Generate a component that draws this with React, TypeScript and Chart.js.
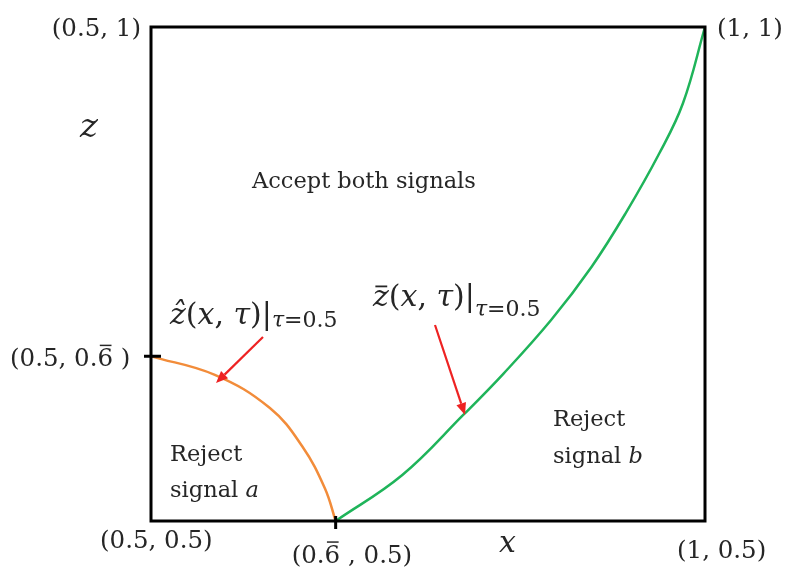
import React, { useEffect, useRef } from "react";
import { Chart, registerables } from "chart.js";

Chart.register(...registerables);

// Axis ranges of the unit square region
const X_RANGE = [0.5, 1];
const Z_RANGE = [0.5, 1];
const TWO_THIRDS = 2 / 3;

// Lower boundary ẑ(x, τ) at τ = 0.5 (reject signal a below it)
const hatX = [0.5, 0.5576, 0.6073, 0.6366, 0.657, TWO_THIRDS];
const hatZ = [TWO_THIRDS, 0.6479, 0.6143, 0.5754, 0.5329, 0.5];

// Upper boundary z̄(x, τ) at τ = 0.5 (reject signal b to its right)
const barX = [TWO_THIRDS, 0.7268, 0.7818, 0.8184, 0.8611, 0.8977, 0.9283, 0.9588, 0.9801, 1];
const barZ = [0.5, 0.5465, 0.6073, 0.6495, 0.7034, 0.7574, 0.8114, 0.8722, 0.9228, 1];

const SERIF = "'DejaVu Serif', 'Liberation Serif', serif";
const INK = "#262626";

type Part = { t: string; size: number; italic?: boolean; dy?: number; over?: boolean };

function font(p: Part) {
  return `${p.italic ? "italic " : ""}${p.size}px ${SERIF}`;
}

function drawRich(ctx: CanvasRenderingContext2D, x: number, y: number, parts: Part[], align: "left" | "right" = "left") {
  let total = 0;
  for (const p of parts) {
    ctx.font = font(p);
    total += ctx.measureText(p.t).width;
  }
  let cx = align === "right" ? x - total : x;
  ctx.textAlign = "left";
  ctx.textBaseline = "alphabetic";
  for (const p of parts) {
    ctx.font = font(p);
    const w = ctx.measureText(p.t).width;
    const by = y + (p.dy || 0);
    ctx.fillText(p.t, cx, by);
    if (p.over) {
      const m = ctx.measureText(p.t);
      const top = by - m.actualBoundingBoxAscent - p.size * 0.12;
      ctx.save();
      ctx.lineWidth = Math.max(1.2, p.size * 0.06);
      ctx.strokeStyle = ctx.fillStyle as string;
      ctx.beginPath();
      ctx.moveTo(cx + w * 0.15, top);
      ctx.lineTo(cx + w * 0.9, top);
      ctx.stroke();
      ctx.restore();
    }
    cx += w;
  }
}

function arrow(ctx: CanvasRenderingContext2D, x1: number, y1: number, x2: number, y2: number) {
  const ang = Math.atan2(y2 - y1, x2 - x1);
  const head = 12;
  const half = 5;
  const bx = x2 - head * Math.cos(ang);
  const by = y2 - head * Math.sin(ang);
  ctx.save();
  ctx.strokeStyle = "#ee2222";
  ctx.fillStyle = "#ee2222";
  ctx.lineWidth = 2.2;
  ctx.beginPath();
  ctx.moveTo(x1, y1);
  ctx.lineTo(bx, by);
  ctx.stroke();
  ctx.beginPath();
  ctx.moveTo(x2, y2);
  ctx.lineTo(bx + half * Math.sin(ang), by - half * Math.cos(ang));
  ctx.lineTo(bx - half * Math.sin(ang), by + half * Math.cos(ang));
  ctx.closePath();
  ctx.fill();
  ctx.restore();
}

const regionPlugin = {
  id: "regionDecor",
  afterDraw(chart: any) {
    const { ctx, chartArea: a, scales } = chart;
    const xs = scales.x;
    const zs = scales.y;
    ctx.save();

    // frame
    ctx.strokeStyle = "#000";
    ctx.lineWidth = 3;
    ctx.strokeRect(a.left, a.top, a.right - a.left, a.bottom - a.top);

    // tick marks at 2/3
    const ty = zs.getPixelForValue(TWO_THIRDS);
    const tx = xs.getPixelForValue(TWO_THIRDS);
    ctx.lineWidth = 3;
    ctx.beginPath();
    ctx.moveTo(a.left - 7, ty);
    ctx.lineTo(a.left + 10, ty);
    ctx.moveTo(tx, a.bottom - 5);
    ctx.lineTo(tx, a.bottom + 8);
    ctx.stroke();

    ctx.fillStyle = INK;
    const S = 24.5;
    const C = 22.5;

    // corner labels
    drawRich(ctx, a.left - 10, a.top + 9, [{ t: "(0.5, 1)", size: S }], "right");
    drawRich(ctx, a.right + 12, a.top + 9, [{ t: "(1, 1)", size: S }]);
    drawRich(ctx, a.left - 51, a.bottom + 27, [{ t: "(0.5, 0.5)", size: S }]);
    drawRich(ctx, a.right - 28, a.bottom + 37, [{ t: "(1, 0.5)", size: S }]);
    drawRich(ctx, tx - 44, a.bottom + 42, [
      { t: "(0.", size: S },
      { t: "6", size: S, over: true },
      { t: " , 0.5)", size: S },
    ]);
    drawRich(ctx, 10, ty + 10, [
      { t: "(0.5, 0.", size: S },
      { t: "6", size: S, over: true },
      { t: " )", size: S },
    ]);

    // axis letters
    drawRich(ctx, 80, 137, [{ t: "z", size: 34, italic: true }]);
    drawRich(ctx, 499, a.bottom + 31, [{ t: "x", size: 30, italic: true }]);

    // region captions
    drawRich(ctx, 252, 188, [{ t: "Accept both signals", size: C }]);
    drawRich(ctx, 170, 461, [{ t: "Reject", size: C }]);
    drawRich(ctx, 170, 497, [{ t: "signal ", size: C }, { t: "a", size: C, italic: true }]);
    drawRich(ctx, 553, 426, [{ t: "Reject", size: C }]);
    drawRich(ctx, 553, 463, [{ t: "signal ", size: C }, { t: "b", size: C, italic: true }]);

    // curve labels
    const M = 30;
    const sub = 22;
    drawRich(ctx, 170, 324, [
      { t: "ẑ", size: M, italic: true },
      { t: "(", size: M },
      { t: "x", size: M, italic: true },
      { t: ", ", size: M },
      { t: "τ", size: M, italic: true },
      { t: ")|", size: M },
      { t: "τ", size: sub, italic: true, dy: 3 },
      { t: "=0.5", size: sub, dy: 3 },
    ]);
    drawRich(ctx, 373, 306, [
      { t: "z", size: M, italic: true, over: true },
      { t: "(", size: M },
      { t: "x", size: M, italic: true },
      { t: ", ", size: M },
      { t: "τ", size: M, italic: true },
      { t: ")|", size: M },
      { t: "τ", size: sub, italic: true, dy: 10 },
      { t: "=0.5", size: sub, dy: 10 },
    ]);

    arrow(ctx, 263, 337, 216, 383);
    arrow(ctx, 435, 325, 465, 415);

    ctx.restore();
  },
};

export default function App() {
  const ref = useRef<HTMLCanvasElement | null>(null);

  useEffect(() => {
    if (!ref.current) return;
    const chart = new Chart(ref.current, {
      type: "scatter",
      data: {
        datasets: [
          {
            label: "ẑ(x, τ)|τ=0.5",
            data: hatX.map((x, i) => ({ x, y: hatZ[i] })),
            showLine: true,
            borderColor: "#f28c3a",
            borderWidth: 2.5,
            pointRadius: 0,
            tension: 0.4,
            clip: 6,
          },
          {
            label: "z̄(x, τ)|τ=0.5",
            data: barX.map((x, i) => ({ x, y: barZ[i] })),
            showLine: true,
            borderColor: "#1fb45a",
            borderWidth: 2.5,
            pointRadius: 0,
            tension: 0.4,
            clip: 6,
          },
        ],
      },
      options: {
        responsive: false,
        animation: false,
        layout: { padding: { left: 151, right: 84, top: 27, bottom: 53 } },
        plugins: { legend: { display: false }, tooltip: { enabled: false } },
        scales: {
          x: { type: "linear", min: X_RANGE[0], max: X_RANGE[1], display: false },
          y: { type: "linear", min: Z_RANGE[0], max: Z_RANGE[1], display: false },
        },
      },
      plugins: [regionPlugin],
    });
    return () => chart.destroy();
  }, []);

  return (
    <div style={{ position: "fixed", left: 0, top: 0, width: 789, height: 574, background: "#fff" }}>
      <canvas ref={ref} width={789} height={574} style={{ display: "block", width: 789, height: 574 }} />
    </div>
  );
}
